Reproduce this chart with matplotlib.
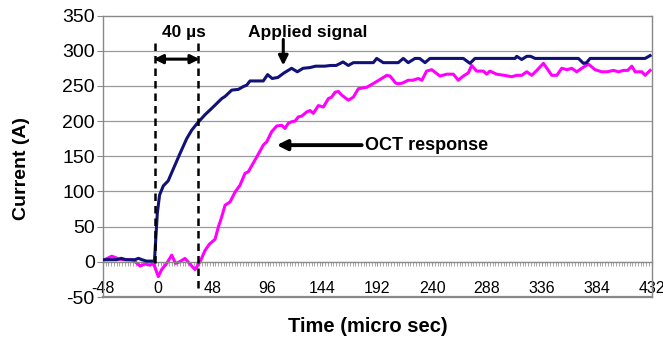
import matplotlib
matplotlib.use("Agg")
import matplotlib.pyplot as plt
from matplotlib.ticker import MultipleLocator

plt.rcParams['font.family'] = ['Liberation Sans', 'DejaVu Sans']

# Applied signal (blue)
t_applied = [-48, -44, -40, -36, -32, -28, -24, -20, -17, -14, -10, -6, -3, -0.5,
             1.5, 4.8, 9, 13.5, 19.4, 25.2, 29.6, 34, 41.2, 47.1, 51.5, 55.9, 58.8,
             64.6, 70.4, 74.7, 77.7, 80.6, 92.2, 96, 100, 105, 110, 117, 122, 127,
             133, 138, 146, 151, 156, 162, 166.6, 171, 188.5, 191.4, 197.2, 210.3,
             214.7, 219, 224.9, 229, 233.7, 238, 267.2, 273, 277.4, 312.5, 313.9,
             318.3, 322.7, 326, 330, 367.9, 372.3, 375, 378.1, 426.2, 430.6]
i_applied = [3, 3, 3, 3, 5, 3, 3, 3, 5, 3, 1, 1, 1, 69,
             95, 108, 115, 132, 154, 175, 187, 196, 209, 218, 225, 232, 235,
             244, 245, 249, 251, 257, 257, 266, 260.5, 262, 268, 275, 270, 275,
             276, 278, 278, 279, 279, 284, 279, 283, 283, 289, 283, 283,
             289, 283, 289, 289, 283, 289, 289, 282, 289, 289, 292,
             287.5, 292, 292, 289, 289, 282, 283, 289, 289, 293]

# OCT response (magenta)
t_oct = [-48, -44, -40.4, -37, -34.6, -30, -26, -21.5, -15.6, -11.3, -6.9, -4, 0.4,
         3.3, 7.7, 12.1, 15.5, 19, 23.7, 28, 32.5, 36.9, 41.2, 45, 50, 53, 55.5,
         58.8, 63.1, 67.5, 71.9, 76.2, 79.1, 86.5, 92.3, 95.2, 99.6, 104, 108.3,
         111.2, 114.1, 117.1, 120, 122.9, 125.8, 130.2, 133.1, 136, 140.4, 144.8,
         149.2, 152, 155, 157.9, 160.8, 166.6, 171, 175.4, 182.7, 187.1, 194.3,
         200.2, 203.1, 208, 210.3, 214, 219, 223, 227.8, 231, 235.1, 239.5, 246.8,
         252.6, 258.5, 262.8, 267.2, 271.6, 274.5, 278.9, 284.7, 287.6, 290.5,
         296.4, 303, 309.5, 314, 318.3, 322.7, 327.1, 331.5, 337.3, 344.6, 349,
         353.3, 358, 362.1, 366.4, 370.8, 376.6, 382.5, 388.3, 393, 398.5, 403,
         407.3, 411, 414.6, 417.5, 423.4, 426.3, 430.6]
i_oct = [2, 5, 8, 6, 4, 3, 3, 2.4, -6, -3, -4.7, -1.4, -21,
         -11, -2.3, 9.5, -2.3, 0, 4.8, -3, -11, 0, 16, 25, 32, 50, 62,
         80.5, 85, 99, 109, 125.6, 128, 149, 166, 170.5, 185, 193, 194,
         189.5, 197, 199, 200, 206, 207, 213, 215, 211, 222, 220,
         232, 234, 241, 242, 237, 229.7, 234, 246, 248, 252, 259,
         265, 264, 254, 253, 254, 258, 258, 260.5, 258, 271, 273, 264,
         266.6, 266.6, 258, 264, 268.5, 279, 271, 271, 266.6, 271,
         266.6, 265, 263, 265, 265, 270, 265, 272, 282, 265, 265,
         275, 273, 275, 270, 275, 281, 273, 270, 270, 272, 270,
         272, 272, 278, 270, 270, 265, 272]

x_ticks = [-48, 0, 48, 96, 144, 192, 240, 288, 336, 384, 432]
y_ticks = [-50, 0, 50, 100, 150, 200, 250, 300, 350]

fig = plt.figure(figsize=(6.63, 3.45), dpi=100)
ax = fig.add_axes([103 / 663, 1 - 297 / 345, (651.7 - 103) / 663, (297 - 15.5) / 345])

grid_c = '#9a9a9a'
for y in y_ticks[2:-1]:
    ax.axhline(y, color=grid_c, lw=0.9, zorder=0)

ax.plot(t_applied, i_applied, color='#111177', lw=2.2, zorder=3, solid_joinstyle='round')
ax.plot(t_oct, i_oct, color='#ff00ff', lw=2.2, zorder=2, solid_joinstyle='round')

ax.set_xlim(-48, 432)
ax.set_ylim(-50, 350)

for s in ['left', 'right', 'top']:
    ax.spines[s].set_color('#888888')
    ax.spines[s].set_linewidth(1.0)
ax.spines['bottom'].set_position(('data', 0))
ax.spines['bottom'].set_color('#888888')
ax.spines['bottom'].set_linewidth(1.0)
# bottom frame line at -50
ax.axhline(-50, color='#888888', lw=1.6, clip_on=False, zorder=1)

ax.set_yticks(y_ticks)
ax.set_yticklabels([str(v) for v in y_ticks], fontsize=14)
ax.tick_params(axis='y', direction='out', length=4, color='#888888', pad=2)

ax.set_xticks(x_ticks)
ax.set_xticklabels([str(v) for v in x_ticks], fontsize=11.5)
ax.xaxis.set_minor_locator(MultipleLocator(2.4))
ax.tick_params(axis='x', which='both', direction='out', length=3, color='#999999', pad=11)

fig.text(22 / 663, 1 - 168 / 345, 'Current (A)', rotation=90, fontsize=14,
         fontweight='bold', ha='center', va='center')
fig.text(368 / 663, 1 - 326 / 345, 'Time (micro sec)', fontsize=14.5,
         fontweight='bold', ha='center', va='center')

# dashed markers of the 40 us delay
ax.plot([-2.5, -2.5], [311, -5], color='black', lw=1.8, ls=(0, (3, 2)), zorder=4, clip_on=False)
ax.plot([35.4, 35.4], [311, -40], color='black', lw=1.8, ls=(0, (3, 2)), zorder=4, clip_on=False)

ax.annotate('', xy=(-3.5, 288), xytext=(36.5, 288),
            arrowprops=dict(arrowstyle='<|-|>', color='black', lw=2.2, mutation_scale=13,
                            shrinkA=0, shrinkB=0))
ax.text(23, 326, '40 µs', fontsize=12.5, fontweight='bold', ha='center', va='center')

ax.text(131.4, 326, 'Applied signal', fontsize=12.5, fontweight='bold', ha='center', va='center')
ax.annotate('', xy=(109.7, 279), xytext=(109.7, 316),
            arrowprops=dict(arrowstyle='-|>', color='black', lw=2.2, mutation_scale=14,
                            shrinkA=0, shrinkB=0))

ax.annotate('', xy=(104, 165.8), xytext=(178.3, 165.8),
            arrowprops=dict(arrowstyle='-|>', color='black', lw=2.8, mutation_scale=15,
                            shrinkA=0, shrinkB=0))
ax.text(181.5, 165.8, 'OCT response', fontsize=13, fontweight='bold', ha='left', va='center')

fig.savefig('out.png', dpi=100)
